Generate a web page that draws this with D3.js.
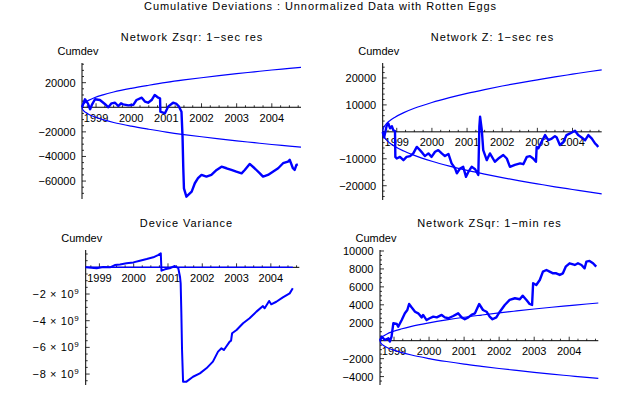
<!DOCTYPE html>
<html>
<head>
<meta charset="utf-8">
<script src="https://cdn.jsdelivr.net/npm/d3@7"></script>
<style>
    body {margin: 0; background: #fff;}
    text {font-family: "Liberation Sans", Arial, sans-serif; font-size: 11px; fill: #000;}
</style>
</head>
<body>
<svg id="chart" width="640" height="395"></svg>
<script>
// ---- data ----
const chartTitle = "Cumulative  Deviations : Unnormalized Data with Rotten Eggs";
const panelTitles = ["Network  Zsqr: 1\u2212sec res", "Network  Z: 1\u2212sec res", "Device  Variance", "Network  ZSqr: 1\u2212min res"];
const yAxisLabel = "Cumdev";
const yearTicks = [1999, 2000, 2001, 2002, 2003, 2004];

// envelope (± curve) sample years, shared by three panels
const envYears = [1998.6, 1998.62, 1998.65, 1998.7, 1998.8, 1998.95, 1999.2, 1999.5, 2000, 2000.5,
    2001, 2001.5, 2002, 2002.5, 2003, 2003.5, 2004, 2004.5, 2004.83];
const zsqrSecEnv = [0, 1840, 2910, 4120, 5820, 7700, 10100, 12400, 15400, 17900,
    20200, 22200, 24000, 25700, 27300, 28800, 30300, 31600, 32500];
const zSecEnv = [0, 1300, 2060, 2910, 4120, 5450, 7130, 8740, 10900, 12700,
    14300, 15700, 17000, 18200, 19300, 20400, 21400, 22400, 23000];
const zsqrMinEnv = [0, 238, 376, 532, 752, 995, 1300, 1600, 1990, 2320,
    2610, 2860, 3100, 3320, 3530, 3730, 3910, 4090, 4200];
const varianceEnvYears = [1998.6, 2001, 2004.64];
const varianceEnv = [0, 0.002, 0.003]; // units of 1e9

// Network Zsqr, 1-sec resolution
const zsqrSecYears = [1998.60, 1998.685, 1998.77, 1998.83, 1998.88, 1998.97, 1999.11, 1999.25, 1999.35, 1999.44,
    1999.54, 1999.63, 1999.71, 1999.77, 1999.92, 2000.06, 2000.15, 2000.30, 2000.39, 2000.48,
    2000.58, 2000.67, 2000.77, 2000.82, 2000.83, 2000.96, 2001.05, 2001.19, 2001.29, 2001.36,
    2001.43, 2001.46, 2001.48, 2001.50, 2001.57, 2001.72, 2001.81, 2001.90, 2002.00, 2002.14,
    2002.28, 2002.43, 2002.57, 2002.71, 2002.85, 2002.99, 2003.14, 2003.23, 2003.37, 2003.51,
    2003.66, 2003.75, 2003.89, 2004.03, 2004.18, 2004.32, 2004.46, 2004.51, 2004.60, 2004.65,
    2004.70, 2004.74];
const zsqrSecValues = [0, 6500, 3000, -1600, 1900, 6500, 5900, 2700, 0, 3200,
    3700, 1000, 3200, 2400, 1500, 2000, 5900, 7800, 4600, 3700,
    5900, 10000, 7800, 7300, -3600, -4900, 500, 3700, 2700, 500,
    -3600, -23900, -48300, -65900, -72700, -68600, -61800, -57700, -55000, -56400,
    -55000, -51000, -48300, -49600, -51000, -52400, -53700, -51000, -46100, -49600,
    -53700, -56400, -55000, -52400, -49600, -45500, -44200, -42800, -49600, -51000,
    -46900, -46500];

// Network Z, 1-sec resolution
const zSecYears = [1998.60, 1998.64, 1998.71, 1998.76, 1998.81, 1998.86, 1998.90, 1998.95, 1998.96, 1999.00,
    1999.09, 1999.19, 1999.28, 1999.38, 1999.47, 1999.57, 1999.66, 1999.74, 1999.80, 1999.90,
    1999.99, 2000.09, 2000.18, 2000.28, 2000.37, 2000.47, 2000.56, 2000.66, 2000.71, 2000.80,
    2000.89, 2000.97, 2001.04, 2001.13, 2001.23, 2001.32, 2001.35, 2001.37, 2001.42, 2001.46,
    2001.56, 2001.65, 2001.79, 2001.89, 2002.03, 2002.13, 2002.22, 2002.36, 2002.51, 2002.60,
    2002.70, 2002.79, 2002.88, 2002.96, 2002.98, 2003.03, 2003.12, 2003.22, 2003.31, 2003.41,
    2003.50, 2003.55, 2003.64, 2003.74, 2003.83, 2003.93, 2004.07, 2004.16, 2004.26, 2004.36,
    2004.45, 2004.55, 2004.64, 2004.69, 2004.73];
const zSecValues = [0, -2100, 2100, 3100, 1300, 2100, 600, 300, -9300, -9900,
    -9300, -10500, -9300, -9000, -8000, -5600, -6800, -8000, -9000, -8000,
    -9300, -7400, -6800, -8000, -9000, -8200, -11700, -13600, -15400, -13600,
    -13000, -16700, -14800, -13000, -13900, -16000, 2000, 5600, 600, -6800,
    -10500, -8000, -11100, -9900, -8600, -9900, -13000, -12300, -11700, -12000,
    -9300, -9000, -9900, -11100, -5600, -6100, -3700, -1200, -3100, -2500,
    -1600, -2100, -4900, -3700, -1200, -600, 400, -1200, -2100, -3100,
    -1200, -2500, -4300, -4900, -5600];

// Device variance (units of 1e9)
const varianceYears = [1998.60, 1998.92, 1999.11, 1999.31, 1999.45, 1999.60, 1999.79, 1999.99, 2000.18, 2000.38,
    2000.57, 2000.71, 2000.79, 2000.81, 2000.91, 2001.05, 2001.20, 2001.30, 2001.35, 2001.37,
    2001.39, 2001.41, 2001.44, 2001.54, 2001.73, 2001.93, 2002.12, 2002.31, 2002.46, 2002.56,
    2002.63, 2002.80, 2002.84, 2002.87, 2003.00, 2003.19, 2003.38, 2003.58, 2003.77, 2003.82,
    2003.95, 2004.01, 2004.16, 2004.35, 2004.55, 2004.64];
const varianceValues = [0, -0.07, 0.02, 0.0, 0.17, 0.22, 0.30, 0.37, 0.50, 0.62,
    0.75, 0.92, 1.05, -0.25, -0.15, -0.07, 0.10, -0.07, -0.70, -1.20,
    -3.45, -6.20, -8.57, -8.57, -8.20, -7.95, -7.57, -7.07, -6.32, -6.07,
    -6.20, -5.57, -5.50, -4.94, -4.70, -4.19, -3.82, -3.32, -2.90, -3.07,
    -2.52, -2.77, -2.58, -2.25, -1.95, -1.57];

// Network ZSqr, 1-min resolution
const zsqrMinYears = [1998.60, 1998.65, 1998.74, 1998.84, 1998.88, 1998.93, 1998.98, 1999.08, 1999.12, 1999.22,
    1999.31, 1999.38, 1999.43, 1999.50, 1999.60, 1999.69, 1999.79, 1999.83, 1999.93, 2000.02,
    2000.12, 2000.22, 2000.36, 2000.45, 2000.55, 2000.69, 2000.83, 2000.93, 2001.02, 2001.12,
    2001.21, 2001.31, 2001.43, 2001.54, 2001.64, 2001.73, 2001.81, 2001.92, 2002.02, 2002.16,
    2002.30, 2002.45, 2002.59, 2002.67, 2002.78, 2002.87, 2002.94, 2002.97, 2003.06, 2003.16,
    2003.25, 2003.35, 2003.44, 2003.54, 2003.63, 2003.73, 2003.82, 2003.90, 2004.01, 2004.16,
    2004.25, 2004.35, 2004.44, 2004.49, 2004.58, 2004.68, 2004.77];
const zsqrMinValues = [0, 450, 80, 270, -100, 450, 1940, 1860, 1560, 2300,
    3050, 3420, 4090, 3720, 3230, 3050, 2600, 2870, 2300, 2500,
    2680, 2600, 2870, 2600, 2500, 2750, 3050, 2600, 2390, 2600,
    2870, 3050, 4090, 3420, 3230, 2680, 2390, 2600, 3230, 3980,
    4540, 4730, 4620, 5020, 4540, 4090, 3980, 6400, 6210, 6770,
    7700, 7880, 7700, 7510, 7510, 7330, 7510, 8250, 8630, 8440,
    8630, 8440, 8070, 8810, 8890, 8630, 8250];

// labelled y ticks per panel
const zsqrSecYTicks = [20000, -20000, -40000, -60000];
const zSecYTicks = [20000, 10000, -10000, -20000];
const varianceYTicks = [-2, -4, -6, -8];
const zsqrMinYTicks = [10000, 8000, 6000, 4000, 2000, -2000, -4000];

// ---- layout ----
const panels = [
    {title: panelTitles[0], titleX: 191.5, titleW: 141.6, titleY: 40.5,
        xRange: [82, 301], yDomain: [-74600, 36000], yRange: [199, 63], minorStep: 5000, lineW: 2.4,
        years: zsqrSecYears, values: zsqrSecValues, envX: envYears, env: zsqrSecEnv, yTicks: zsqrSecYTicks},
    {title: panelTitles[1], titleX: 492, titleW: 122.3, titleY: 40.5,
        xRange: [382.7, 601.7], yDomain: [-25300, 25550], yRange: [200, 63], minorStep: 2000, lineW: 2.4,
        years: zSecYears, values: zSecValues, envX: envYears, env: zSecEnv, yTicks: zSecYTicks},
    {title: panelTitles[2], titleX: 186, titleW: 92.3, titleY: 227.3,
        xRange: [85.7, 299.3], yDomain: [-8.82, 1.3], yRange: [385, 250], minorStep: 0.5, lineW: 2, sci: true,
        years: varianceYears, values: varianceValues, envX: varianceEnvYears, env: varianceEnv, yTicks: varianceYTicks},
    {title: panelTitles[3], titleX: 489, titleW: 143.7, titleY: 227.3,
        xRange: [380, 598.3], yDomain: [-4940, 10110], yRange: [385, 250], minorStep: 500, lineW: 2.4,
        years: zsqrMinYears, values: zsqrMinValues, envX: envYears, env: zsqrMinEnv, yTicks: zsqrMinYTicks}
];

const svg = d3.select("#chart");
const blue = "#0000ff";

svg.append("text")
    .attr("x", 320).attr("y", 10)
    .attr("text-anchor", "middle")
    .attr("textLength", 352).attr("lengthAdjust", "spacing")
    .text(chartTitle);

const fmt = v => (v < 0 ? "\u2212" : "") + Math.abs(v);

panels.forEach(p => {
    const x = d3.scaleLinear().domain([1998.6, 2004.83]).range(p.xRange);
    const y = d3.scaleLinear().domain(p.yDomain).range(p.yRange);
    const x0 = x(1998.6), y0 = y(0);
    const g = svg.append("g");

    g.append("text")
        .attr("x", p.titleX).attr("y", p.titleY)
        .attr("text-anchor", "middle")
        .attr("textLength", p.titleW).attr("lengthAdjust", "spacing")
        .text(p.title);

    g.append("text")
        .attr("x", x0 - 24.5).attr("y", p.yRange[1] - 8)
        .text(yAxisLabel);

    // axes
    g.append("line").attr("x1", x0).attr("x2", x0).attr("y1", p.yRange[0]).attr("y2", p.yRange[1])
        .attr("stroke", "#000").attr("stroke-width", 1);
    g.append("line").attr("x1", x0).attr("x2", p.xRange[1]).attr("y1", y0).attr("y2", y0)
        .attr("stroke", "#000").attr("stroke-width", 1);

    // x ticks: quarters minor, years major
    const quarterTicks = d3.range(1998.75, 2004.8, 0.25);
    g.selectAll(".xt").data(quarterTicks).join("line")
        .attr("x1", d => x(d)).attr("x2", d => x(d))
        .attr("y1", y0).attr("y2", d => y0 - (Math.abs(d - Math.round(d)) < 0.01 ? 4 : 2))
        .attr("stroke", "#000").attr("stroke-width", 0.8);
    g.selectAll(".xl").data(yearTicks).join("text")
        .attr("x", d => x(d)).attr("y", y0 + 14.5)
        .attr("text-anchor", "middle")
        .text(d => d);

    // y ticks
    const lo = Math.ceil(p.yDomain[0] / p.minorStep) * p.minorStep;
    const minor = d3.range(lo, p.yDomain[1], p.minorStep);
    g.selectAll(".yt").data(minor).join("line")
        .attr("x1", x0).attr("x2", d => x0 + (p.yTicks.some(t => Math.abs(t - d) < 1e-9) ? 4 : 2))
        .attr("y1", d => y(d)).attr("y2", d => y(d))
        .attr("stroke", "#000").attr("stroke-width", 0.8);

    const yl = g.selectAll(".yl").data(p.yTicks).join("text")
        .attr("x", x0 - 6.5).attr("y", d => y(d) + 4)
        .attr("text-anchor", "end");
    if (p.sci) {
        // Mathematica-style  "−2 × 10⁹", spaced wide like the original
        yl.style("letter-spacing", "0.6px").each(function (d) {
            const t = d3.select(this);
            t.append("tspan").text(fmt(d) + "  \u00d7 10");
            t.append("tspan").attr("dy", -4).attr("font-size", 8).text("9");
        });
    } else {
        yl.text(d => fmt(d));
    }

    // envelope ± curves
    const envLine = sign => d3.line()
        .x((d, i) => x(p.envX[i]))
        .y(d => y(sign * d))
        .curve(d3.curveMonotoneX);
    [1, -1].forEach(s => {
        g.append("path").attr("d", envLine(s)(p.env))
            .attr("fill", "none").attr("stroke", blue).attr("stroke-width", 1.2);
    });

    // cumulative deviation trace
    const dataLine = d3.line()
        .x((d, i) => x(p.years[i]))
        .y(d => y(d));
    g.append("path").attr("d", dataLine(p.values))
        .attr("fill", "none").attr("stroke", blue)
        .attr("stroke-width", p.lineW).attr("stroke-linejoin", "round");
});
</script>
</body>
</html>
